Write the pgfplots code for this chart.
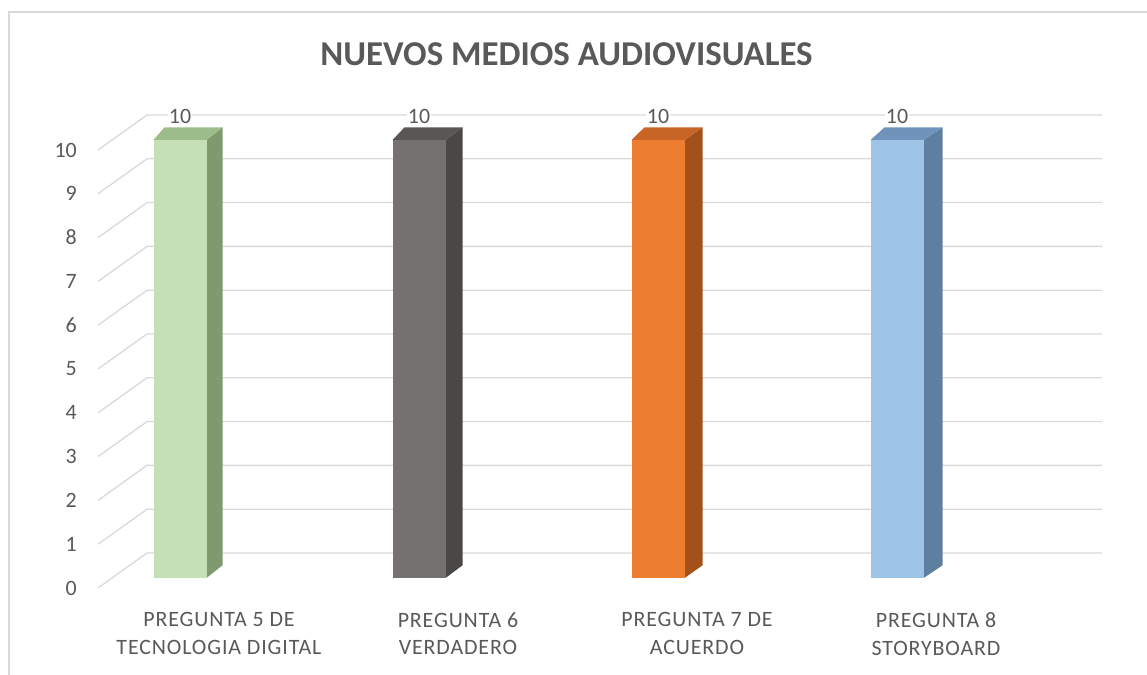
\documentclass[border=0pt]{standalone}
\usepackage{pgfplots}
\pgfplotsset{compat=1.18}
\usepackage{fontspec}
\setmainfont{Carlito}
\newfontfamily\lblfont[LetterSpace=4]{Carlito}
\definecolor{textc}{HTML}{595959}
\definecolor{gridc}{HTML}{D9D9D9}
\definecolor{framec}{HTML}{D9D9D9}
\definecolor{gF}{HTML}{C5E0B4}\definecolor{gS}{HTML}{7E9A6E}\definecolor{gT}{HTML}{9CBD8A}
\definecolor{kF}{HTML}{767171}\definecolor{kS}{HTML}{4A4747}\definecolor{kT}{HTML}{5A5656}
\definecolor{oF}{HTML}{ED7D31}\definecolor{oS}{HTML}{A4501B}\definecolor{oT}{HTML}{C66526}
\definecolor{bF}{HTML}{9DC3E6}\definecolor{bS}{HTML}{5F7FA0}\definecolor{bT}{HTML}{6F93BB}
\begin{document}
\begin{tikzpicture}
\path[use as bounding box] (0,-77bp) rectangle (1147bp,598bp);
\draw[framec, line width=1.5bp] (9bp,-77bp) -- (9bp,586bp) -- (1147bp,586bp);
\begin{axis}[
  at={(0,0)}, anchor=south west,
  scale only axis, width=1147bp, height=598bp,
  xmin=-0.7531, xmax=4.0460, ymin=-0.4566, ymax=13.1963,
  enlargelimits=false, clip=false,
  /pgf/number format/assume math mode=true,
  axis line style={draw=none}, tick style={draw=none}, major tick length=0pt,
  xtick={0.163,1.163,2.163,3.163},
  xticklabels={{PREGUNTA 5 DE\\TECNOLOGIA DIGITAL},{PREGUNTA 6\\VERDADERO},{PREGUNTA 7 DE\\ACUERDO},{PREGUNTA 8\\STORYBOARD}},
  xticklabel style={align=center, font=\lblfont\fontsize{22}{28}\selectfont, text=textc, inner sep=0pt, anchor=north, yshift=-14bp},
  ytick={-0.228,0.772,1.772,2.772,3.772,4.772,5.772,6.772,7.772,8.772,9.772},
  yticklabels={0,1,2,3,4,5,6,7,8,9,10},
  yticklabel style={anchor=east, xshift=77bp, inner sep=0pt, font=\fontsize{22}{26}\selectfont, text=textc},
  title={NUEVOS MEDIOS AUDIOVISUALES},
  title style={at={(0.5,1)}, anchor=north, yshift=-48bp, xshift=-7bp, inner sep=0pt, font=\bfseries\fontsize{35}{40}\selectfont, text=textc},
  every node near coord/.append style={anchor=south, yshift=15bp, fill=white, inner sep=1bp, font=\fontsize{22}{26}\selectfont, text=textc},
]
% gridlines (back wall + left wall diagonals)
\addplot[gridc, line width=1.3bp, unbounded coords=jump, forget plot] coordinates {
 (-0.343,-0.228) (-0.138,0.571) (3.858,0.571) (0,nan)
 (-0.343,0.772) (-0.138,1.571) (3.858,1.571) (0,nan)
 (-0.343,1.772) (-0.138,2.571) (3.858,2.571) (0,nan)
 (-0.343,2.772) (-0.138,3.571) (3.858,3.571) (0,nan)
 (-0.343,3.772) (-0.138,4.571) (3.858,4.571) (0,nan)
 (-0.343,4.772) (-0.138,5.571) (3.858,5.571) (0,nan)
 (-0.343,5.772) (-0.138,6.571) (3.858,6.571) (0,nan)
 (-0.343,6.772) (-0.138,7.571) (3.858,7.571) (0,nan)
 (-0.343,7.772) (-0.138,8.571) (3.858,8.571) (0,nan)
 (-0.343,8.772) (-0.138,9.571) (3.858,9.571) (0,nan)
 (-0.343,9.772) (-0.138,10.571) (3.858,10.571)
};
% bar 1
\addplot[fill=gS, draw=none] coordinates {(0.1109,0) (0.1778,0.29) (0.1778,10.29) (0.1109,10)};
\addplot[fill=gT, draw=none] coordinates {(-0.1109,10) (0.1109,10) (0.1778,10.29) (-0.0649,10.29)};
\addplot[ybar, bar shift=0pt, bar width=53bp, fill=gF, draw=none, nodes near coords] coordinates {(0,10)};
% bar 2
\addplot[fill=kS, draw=none] coordinates {(1.1109,0) (1.1820,0.29) (1.1820,10.29) (1.1109,10)};
\addplot[fill=kT, draw=none] coordinates {(0.8891,10) (1.1109,10) (1.1820,10.29) (0.9393,10.29)};
\addplot[ybar, bar shift=0pt, bar width=53bp, fill=kF, draw=none, nodes near coords] coordinates {(1,10)};
% bar 3
\addplot[fill=oS, draw=none] coordinates {(2.1109,0) (2.1862,0.29) (2.1862,10.29) (2.1109,10)};
\addplot[fill=oT, draw=none] coordinates {(1.8891,10) (2.1109,10) (2.1862,10.29) (1.9435,10.29)};
\addplot[ybar, bar shift=0pt, bar width=53bp, fill=oF, draw=none, nodes near coords] coordinates {(2,10)};
% bar 4
\addplot[fill=bS, draw=none] coordinates {(3.1109,0) (3.1904,0.29) (3.1904,10.29) (3.1109,10)};
\addplot[fill=bT, draw=none] coordinates {(2.8891,10) (3.1109,10) (3.1904,10.29) (2.9477,10.29)};
\addplot[ybar, bar shift=0pt, bar width=53bp, fill=bF, draw=none, nodes near coords] coordinates {(3,10)};
\end{axis}
\end{tikzpicture}
\end{document}
